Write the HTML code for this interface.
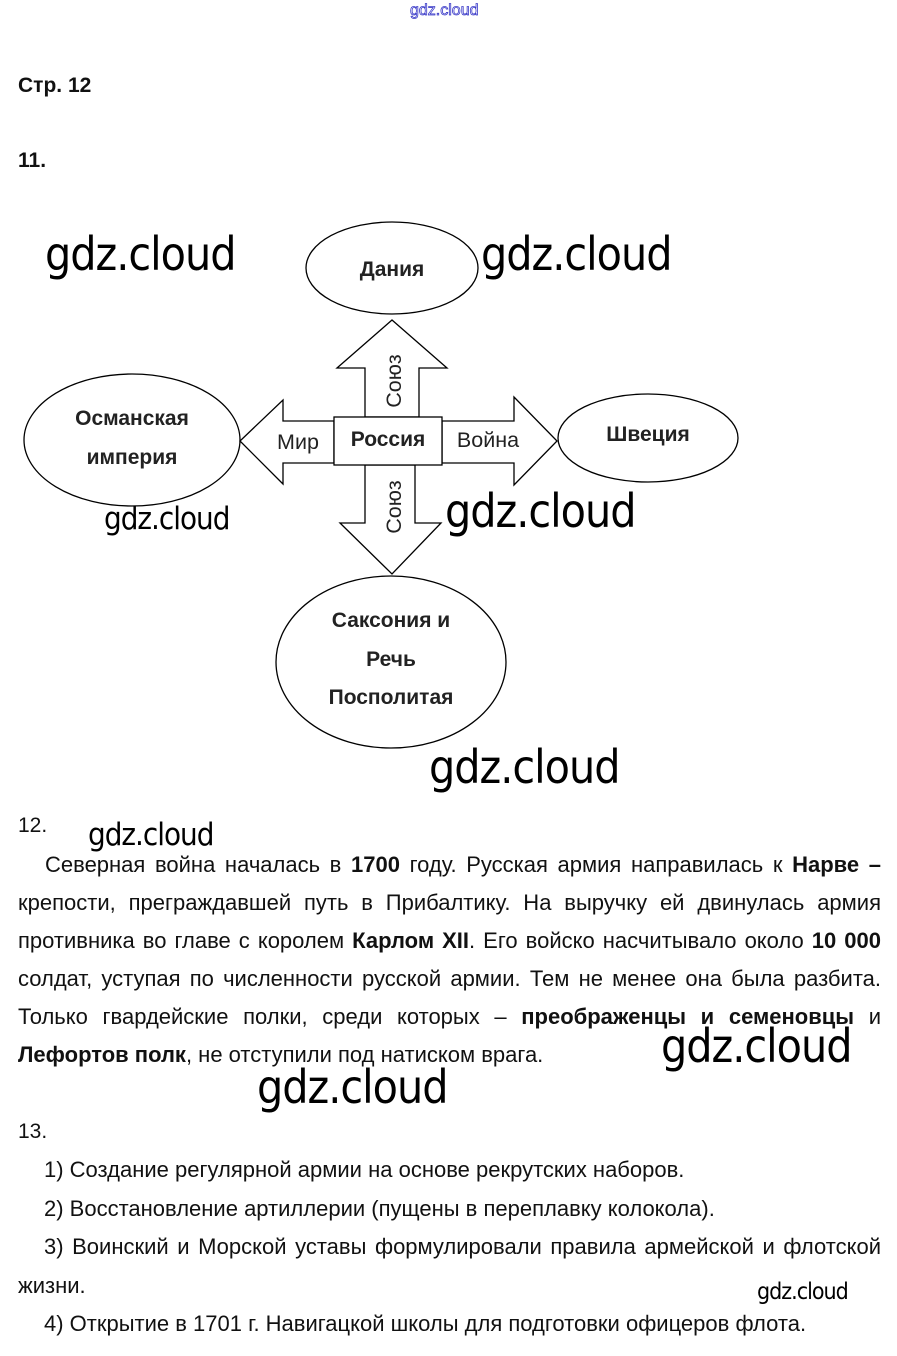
<!DOCTYPE html>
<html><head><meta charset="utf-8"><style>
body{margin:0;width:897px;height:1356px;background:#fff;position:relative;overflow:hidden;font-family:"Liberation Sans",Arial,sans-serif;color:#111}
.t{position:absolute;font-size:22px;line-height:26px;white-space:nowrap}
.j{position:absolute;left:18px;width:863px;font-size:22px;line-height:26px;text-align:justify;text-align-last:justify;white-space:nowrap}
.h{position:absolute;left:18px;font-size:21px;font-weight:bold;line-height:24px}
.w{position:absolute;font-family:"DejaVu Sans Condensed","Liberation Sans Narrow","Liberation Sans",sans-serif;color:#000;line-height:1;white-space:nowrap;letter-spacing:-1px}
.W{font-size:46px}
.s{font-size:31px}
b{font-weight:bold}
</style></head><body>
<div class="t" style="left:410px;top:1px;font-size:16px;line-height:20px;color:#fff;-webkit-text-stroke:0.8px #3a3ac8">gdz.cloud</div>
<div class="h" style="top:74px">Стр. 12</div>
<div class="h" style="top:149px">11.</div>

<svg width="897" height="800" style="position:absolute;left:0;top:0" xmlns="http://www.w3.org/2000/svg">
<g fill="#fff" stroke="#000" stroke-width="1.3">
<ellipse cx="392" cy="268" rx="86" ry="46"/>
<ellipse cx="648" cy="438" rx="90" ry="44"/>
<ellipse cx="132" cy="440" rx="108" ry="66"/>
<ellipse cx="391" cy="662" rx="115" ry="86"/>
<polygon points="365,417 365,368 337,368 392,320 447,368 419,368 419,417"/>
<polygon points="334,421 283,421 283,400 240,441 283,484 283,463 334,463"/>
<polygon points="442,421 514,421 514,397 557,441 514,485 514,463 442,463"/>
<polygon points="365,465 365,523 340,523 392,574 441,523 415,523 415,465"/>
<rect x="334" y="417" width="108" height="48"/>
</g>
<g font-family="Liberation Sans, Arial, sans-serif" font-size="21" fill="#222" text-anchor="middle">
<text x="392" y="276" font-weight="bold">Дания</text>
<text x="648" y="441" font-weight="bold">Швеция</text>
<text x="132" y="425" font-weight="bold">Османская</text>
<text x="132" y="464" font-weight="bold">империя</text>
<text x="391" y="627" font-weight="bold">Саксония и</text>
<text x="391" y="666" font-weight="bold">Речь</text>
<text x="391" y="704" font-weight="bold">Посполитая</text>
<text x="388" y="446" font-weight="bold">Россия</text>
<text x="298" y="449" font-size="21.5">Мир</text>
<text x="488" y="447" font-size="21.5">Война</text>
<text transform="translate(401,381) rotate(-90)" font-size="21.5">Союз</text>
<text transform="translate(401,507) rotate(-90)" font-size="21.5">Союз</text>
</g>
</svg>

<div class="h" style="top:814px;font-weight:normal">12.</div>
<div class="j" style="top:852px;padding-left:27px;width:836px">Северная война началась в <b>1700</b> году. Русская армия направилась к <b>Нарве –</b></div>
<div class="j" style="top:890px">крепости, преграждавшей путь в Прибалтику. На выручку ей двинулась армия</div>
<div class="j" style="top:928px">противника во главе с королем <b>Карлом XII</b>. Его войско насчитывало около <b>10 000</b></div>
<div class="j" style="top:966px">солдат, уступая по численности русской армии. Тем не менее она была разбита.</div>
<div class="j" style="top:1004px">Только гвардейские полки, среди которых – <b>преображенцы и семеновцы</b> и</div>
<div class="t" style="left:18px;top:1042px"><b>Лефортов полк</b>, не отступили под натиском врага.</div>

<div class="h" style="top:1120px;font-weight:normal">13.</div>
<div class="t" style="left:44px;top:1157px">1) Создание регулярной армии на основе рекрутских наборов.</div>
<div class="t" style="left:44px;top:1196px">2) Восстановление артиллерии (пущены в переплавку колокола).</div>
<div class="j" style="top:1234px;padding-left:26px;width:837px">3) Воинский и Морской уставы формулировали правила армейской и флотской</div>
<div class="t" style="left:18px;top:1273px">жизни.</div>
<div class="t" style="left:44px;top:1311px">4) Открытие в 1701 г. Навигацкой школы для подготовки офицеров флота.</div>

<div class="w W" style="left:45px;top:231px">gdz.cloud</div>
<div class="w W" style="left:481px;top:231px">gdz.cloud</div>
<div class="w W" style="left:445px;top:488px">gdz.cloud</div>
<div class="w W" style="left:429px;top:744px">gdz.cloud</div>
<div class="w W" style="left:661px;top:1023px">gdz.cloud</div>
<div class="w W" style="left:257px;top:1064px">gdz.cloud</div>
<div class="w s" style="left:104px;top:504px">gdz.cloud</div>
<div class="w s" style="left:88px;top:820px">gdz.cloud</div>
<div class="w" style="left:757px;top:1281px;font-size:23px">gdz.cloud</div>
</body></html>
